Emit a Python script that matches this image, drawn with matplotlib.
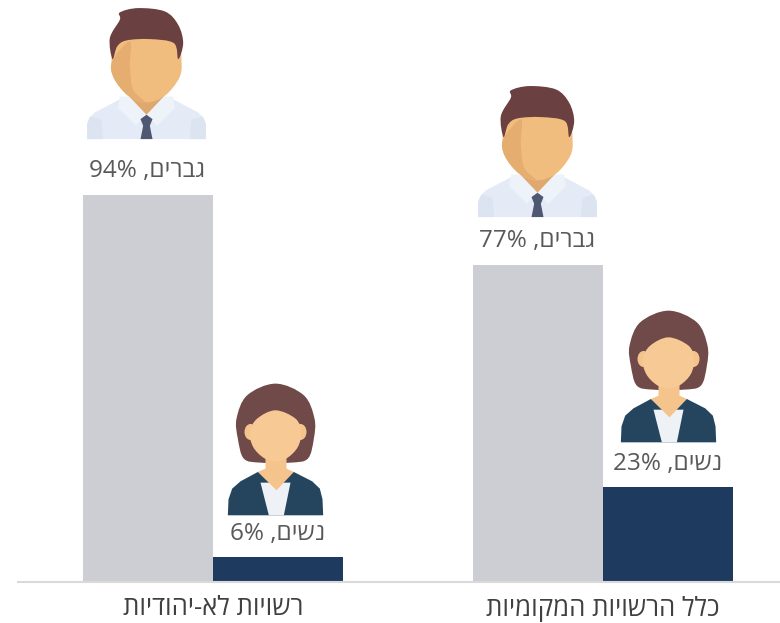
#!/usr/bin/python

import numpy as np
import matplotlib
matplotlib.use("Agg")
import matplotlib.pyplot as plt
from matplotlib.patches import PathPatch, Ellipse
from matplotlib.path import Path
from matplotlib.transforms import Affine2D, ScaledTranslation

plt.rcParams['font.family'] = ['Open Sans', 'DejaVu Sans']

# left to right as drawn
categories = ['רשויות לא-יהודיות', 'כלל הרשויות המקומיות']
men = [94, 77]
women = [6, 23]
men_label = 'גברים'
women_label = 'נשים'

GREY = '#cdcdd4'
NAVY = '#1f3a5f'
TEXT = '#595959'


def visual(s):
    # matplotlib has no bidi, so hebrew goes in reversed
    return s[::-1]


def smooth(points):
    # closed catmull-rom through the points, as cubic beziers
    p = np.array(points, dtype=float)
    n = len(p)
    verts = [p[0]]
    codes = [Path.MOVETO]
    for i in range(n):
        p0, p1, p2, p3 = p[i - 1], p[i], p[(i + 1) % n], p[(i + 2) % n]
        verts += [p1 + (p2 - p0) / 6, p2 - (p3 - p1) / 6, p2]
        codes += [Path.CURVE4] * 3
    return Path(verts, codes)


def poly(points):
    return Path(list(points) + [points[0]], closed=True)


def add(ax, path, color, tr):
    ax.add_patch(PathPatch(path, fc=color, ec='none', transform=tr, clip_on=False))


def icon_transform(ax, x, y, dx, dy, cx, bottom):
    # shapes below are in zoomed picture units (3 per pixel), y pointing down
    return (Affine2D().translate(-cx, -bottom).scale(1 / 3, -1 / 3)
            + ScaledTranslation(dx / 100, dy / 100, ax.figure.dpi_scale_trans)
            + ScaledTranslation(x, y, ax.transData))


def draw_man(ax, x, y, dx, dy):
    tr = icon_transform(ax, x, y, dx, dy, 230, 418)
    add(ax, poly([(52, 418), (52, 372), (58, 355), (75, 338), (155, 296), (305, 296),
                  (385, 338), (402, 355), (408, 372), (408, 418)]), '#e4ebf6', tr)
    add(ax, poly([(52, 418), (52, 372), (62, 350), (95, 360), (100, 418)]), '#dce4f1', tr)
    add(ax, poly([(408, 418), (408, 372), (398, 350), (365, 360), (360, 418)]), '#dce4f1', tr)
    add(ax, poly([(150, 290), (310, 290), (315, 325), (262, 378), (230, 345), (198, 378), (145, 325)]), '#eef3fa', tr)
    add(ax, poly([(178, 250), (282, 250), (282, 290), (230, 345), (178, 290)]), '#dea86f', tr)
    add(ax, poly([(212, 358), (230, 345), (248, 358), (240, 378), (248, 418), (212, 418), (220, 378)]), '#4f5872', tr)
    add(ax, smooth([(125, 185), (140, 125), (230, 100), (320, 125), (335, 185), (328, 235),
                    (285, 288), (230, 308), (175, 288), (132, 235)]), '#f0bd7f', tr)
    add(ax, smooth([(127, 185), (180, 125), (180, 200), (190, 270), (225, 306), (175, 288), (132, 235)]), '#e6ad70', tr)
    add(ax, smooth([(128, 178), (120, 115), (150, 60), (150, 38), (205, 25), (285, 35), (325, 75),
                    (340, 130), (325, 178), (312, 130), (240, 118), (170, 122), (142, 140)]), '#6b4040', tr)


def draw_woman(ax, x, y, dx, dy):
    tr = icon_transform(ax, x, y, dx, dy, 225, 420)
    add(ax, smooth([(112, 190), (108, 130), (140, 60), (225, 25), (310, 60), (342, 130), (340, 190),
                    (322, 250), (270, 262), (180, 262), (130, 250)]), '#6f4a48', tr)
    add(ax, poly([(82, 420), (84, 372), (95, 340), (120, 318), (172, 290), (280, 290),
                  (335, 318), (358, 340), (366, 372), (368, 420)]), '#25455f', tr)
    add(ax, poly([(180, 322), (270, 322), (250, 420), (205, 420)]), '#eef2f7', tr)
    add(ax, poly([(195, 225), (258, 225), (258, 280), (280, 290), (228, 345), (172, 290), (195, 280)]), '#f5c48d', tr)
    ax.add_patch(Ellipse((150, 170), 36, 48, fc='#f5c48d', ec='none', transform=tr, clip_on=False))
    ax.add_patch(Ellipse((300, 170), 36, 48, fc='#f5c48d', ec='none', transform=tr, clip_on=False))
    add(ax, smooth([(148, 170), (170, 130), (225, 105), (285, 130), (302, 170), (292, 215),
                    (260, 248), (225, 258), (190, 248), (158, 215)]), '#f7c995', tr)


fig = plt.figure(figsize=(7.8, 6.23), dpi=100)
ax = fig.add_axes([18 / 780, 41 / 623, 762 / 780, 582 / 623])

x = np.arange(len(categories))
w = 1 / 3
ax.bar(x - w / 2, men, w, color=GREY)
ax.bar(x + w / 2, women, w, color=NAVY)

ax.set_xlim(-0.5, 1.4538)
ax.set_ylim(0, 141.4)
ax.set_xticks(x)
ax.set_xticklabels([visual(c) for c in categories], fontsize=18.5, color='#404040')
ax.tick_params(axis='x', length=0, pad=10)
ax.set_yticks([])
for s in ['top', 'left', 'right']:
    ax.spines[s].set_visible(False)
ax.spines['bottom'].set_color('#d9d9d9')
ax.spines['bottom'].set_linewidth(1.5)

man_lift = [56, 48]
woman_lift = [42, 45]
man_shift = [-1.5, -0.5]
woman_shift = [-2.5, 0.5]

for i in x:
    ax.annotate('%d%% ,%s' % (men[i], visual(men_label)), (i - w / 2, men[i]),
                xytext=(-1, 24), textcoords='offset pixels', ha='center', va='center',
                fontsize=17.5, color=TEXT)
    ax.annotate('%d%% ,%s' % (women[i], visual(women_label)), (i + w / 2, women[i]),
                xytext=(0, 23), textcoords='offset pixels', ha='center', va='center',
                fontsize=17.5, color=TEXT)
    draw_man(ax, i - w / 2, men[i], man_shift[i], man_lift[i])
    draw_woman(ax, i + w / 2, women[i], woman_shift[i], woman_lift[i])

fig.savefig('out.png', dpi=100)
